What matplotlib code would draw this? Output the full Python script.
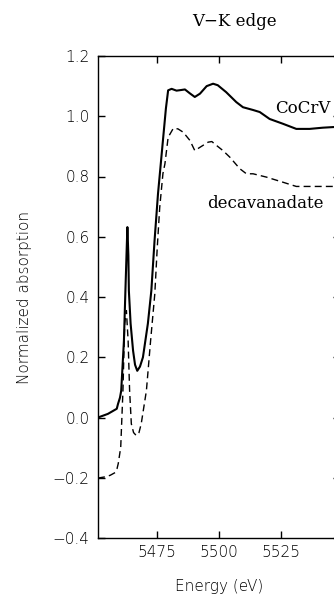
import matplotlib
matplotlib.use("Agg")
import matplotlib.pyplot as plt
import numpy as np

# CoCrV spectrum (energy eV, normalized absorption)
cocrv_energy = [5451.0, 5455.0, 5458.6, 5459.1, 5459.9, 5460.4, 5461.5, 5462.1, 5462.6, 5462.9,
                5463.3, 5463.5, 5464.2, 5465.2, 5466.0, 5466.9, 5468.0, 5469.2, 5471.2, 5472.6,
                5473.9, 5475.3, 5477.3, 5478.5, 5479.4, 5480.8, 5482.8, 5484.6, 5486.2, 5488.2,
                5490.2, 5492.3, 5495.0, 5497.6, 5499.5, 5502.9, 5507.0, 5509.7, 5513.7, 5516.5,
                5520.5, 5525.9, 5531.3, 5536.7, 5542.0, 5546.1, 5549.0]
cocrv_abs = [0.000, 0.012, 0.029, 0.045, 0.066, 0.089, 0.255, 0.421, 0.555, 0.632,
             0.538, 0.421, 0.312, 0.222, 0.175, 0.155, 0.169, 0.200, 0.312, 0.421,
             0.587, 0.743, 0.920, 1.026, 1.086, 1.091, 1.085, 1.087, 1.089, 1.076,
             1.064, 1.075, 1.100, 1.108, 1.103, 1.080, 1.047, 1.030, 1.021, 1.014,
             0.991, 0.975, 0.958, 0.958, 0.962, 0.964, 0.965]

# decavanadate spectrum
deca_energy = [5451.0, 5453.9, 5455.9, 5457.9, 5458.7, 5459.2, 5460.2, 5461.1, 5461.8, 5462.5,
               5463.2, 5463.8, 5464.5, 5465.4, 5466.5, 5467.6, 5468.5, 5470.6, 5472.3, 5474.0,
               5475.0, 5476.0, 5477.3, 5478.1, 5479.4, 5481.5, 5483.4, 5485.5, 5488.2, 5490.2,
               5492.3, 5495.6, 5497.1, 5499.0, 5501.6, 5504.4, 5508.4, 5511.1, 5513.8, 5519.2,
               5525.9, 5531.3, 5546.0, 5549.0]
deca_abs = [-0.201, -0.197, -0.192, -0.183, -0.170, -0.153, -0.099, 0.089, 0.312, 0.355,
            0.255, 0.089, -0.021, -0.050, -0.060, -0.050, -0.021, 0.089, 0.255, 0.410,
            0.565, 0.698, 0.810, 0.842, 0.930, 0.960, 0.958, 0.947, 0.920, 0.886,
            0.897, 0.914, 0.916, 0.903, 0.886, 0.864, 0.826, 0.809, 0.809, 0.798,
            0.781, 0.767, 0.767, 0.767]

x_ticks = [5475, 5500, 5525]
y_ticks = [-0.4, -0.2, 0.0, 0.2, 0.4, 0.6, 0.8, 1.0, 1.2]

W, H = 334, 596
fig = plt.figure(figsize=(W / 100, H / 100), dpi=100)
ax = fig.add_axes([98 / W, (H - 538) / H, (340 - 98) / W, (538 - 56) / H])

ax.plot(cocrv_energy, cocrv_abs, color="black", lw=1.5, solid_joinstyle="round")
ax.plot(deca_energy, deca_abs, color="black", lw=1.0, dashes=(5, 3))

ax.set_xlim(5451, 5549)
ax.set_ylim(-0.4, 1.2)
ax.set_xticks(x_ticks)
ax.set_yticks(y_ticks)
ax.set_yticklabels([f"{v:.1f}".replace("-", "\u2212") for v in y_ticks])
ax.tick_params(direction="in", length=5, width=1, top=True, right=True,
               labelsize=11, colors="black")
ax.tick_params(axis="y", pad=6)
ax.tick_params(axis="x", pad=5)
for lab in ax.get_xticklabels() + ax.get_yticklabels():
    lab.set_fontweight("light")
for s in ax.spines.values():
    s.set_linewidth(1.0)

ax.text(5522.6, 1.025, "CoCrV", family="DejaVu Serif", fontsize=12, ha="left", va="center")
ax.text(5495.2, 0.709, "decavanadate", family="DejaVu Serif", fontsize=12, ha="left", va="center")

fig.text(234 / W, 1 - 21 / H, "V\u2212K edge", family="DejaVu Serif", fontsize=12,
         ha="center", va="center")
fig.text(219 / W, 1 - 587 / H, "Energy (eV)", fontsize=11, fontweight="light",
         ha="center", va="center")
fig.text(25 / W, 1 - 297 / H, "Normalized absorption", fontsize=11, fontweight="light",
         rotation=90, ha="center", va="center")

fig.savefig("out.png", dpi=100)
